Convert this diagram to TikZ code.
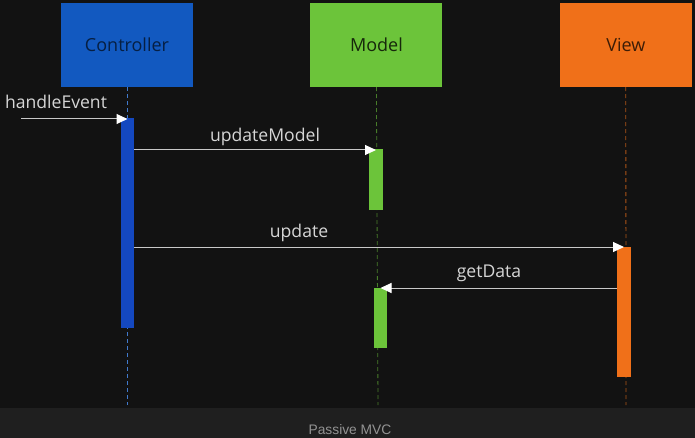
\documentclass[tikz,border=0pt]{standalone}
\usepackage{fontspec}
\setmainfont{Open Sans}
\newfontfamily\captionfont{Liberation Sans}
\usetikzlibrary{positioning, arrows.meta}
\definecolor{bgdark}{HTML}{121212}
\definecolor{banddark}{HTML}{1F1F1F}
\definecolor{ctrlblue}{HTML}{1259C0}
\definecolor{ctrlbar}{HTML}{1448C0}
\definecolor{modelgreen}{HTML}{6CC43A}
\definecolor{vieworange}{HTML}{F07019}
\definecolor{msggray}{HTML}{C8C8C8}
\definecolor{labelgray}{HTML}{D6D6D6}
\tikzset{
  x=1pt, y=-1pt, % one unit per pixel, y runs down
  actor/.style={minimum width=132pt, minimum height=84pt, inner sep=0pt,
    font=\fontsize{18}{21}\selectfont}, % the boxes on top
  lifeline/.style={dashed, dash pattern=on 4pt off 3pt, line width=0.8pt},
  activation/.style={minimum width=13pt, inner sep=0pt, anchor=north}, % the bars
  message/.style={draw=msggray, line width=1pt,
    -{Triangle[width=10pt,length=11pt,color=white]}},
  msglabel/.style={text=labelgray, font=\fontsize{17.6}{20}\selectfont},
}
\begin{document}
\begin{tikzpicture}
  \fill[bgdark] (0,0) rectangle (695,438);
  \fill[banddark] (0,408) rectangle (695,438);
  \useasboundingbox (0,0) rectangle (695,438);

  \node[actor, fill=ctrlblue, text=ctrlblue!35!black] (ctrl) at (127,45) {Controller};
  \node[actor, fill=modelgreen, text=modelgreen!20!black, right=117pt of ctrl] (model) {Model};
  \node[actor, fill=vieworange, text=vieworange!25!black, right=117pt of model] (view) {View};

  \coordinate (ctrlend) at (127,405);
  \coordinate (modelend) at (378,405);
  \coordinate (viewend) at (626,405);
  \draw[lifeline, ctrlblue!80] (ctrl.south) -- (ctrlend);
  \draw[lifeline, modelgreen!60!bgdark] (model.south) -- (modelend);
  \draw[lifeline, vieworange!70!bgdark] (view.south) -- (viewend);

  \node[activation, fill=ctrlbar, minimum height=210pt] (cbar) at (127.5,118) {};
  \node[activation, fill=modelgreen, minimum width=14pt, minimum height=61pt] (mbar1) at (376,149) {};
  \node[activation, fill=modelgreen, minimum height=60pt] (mbar2) at (380.5,288) {};
  \node[activation, fill=vieworange, minimum width=14pt, minimum height=130pt] (vbar) at (624,247) {};

  \coordinate (caller) at (21,119);
  \draw[message] (caller) -- ([yshift=-1pt]cbar.north);
  \draw[message] ([yshift=-1pt]cbar.east |- mbar1.north) -- ([yshift=-1pt]mbar1.north);
  \draw[message] (cbar.east |- vbar.north) -- (vbar.north);
  \draw[message] (vbar.west |- mbar2.north) -- (mbar2.north);

  \node[msglabel] (handle) at (56,102) {handleEvent};
  \node[msglabel] (upmodel) at (265,137) {updateModel};
  \node[msglabel] (upd) at (299,233) {update};
  \node[msglabel] (getdata) at (489,273) {getData};

  \node[text=gray!85, font=\captionfont\fontsize{13.8}{16}\selectfont] (caption) at (350,430) {Passive MVC};
\end{tikzpicture}
\end{document}
